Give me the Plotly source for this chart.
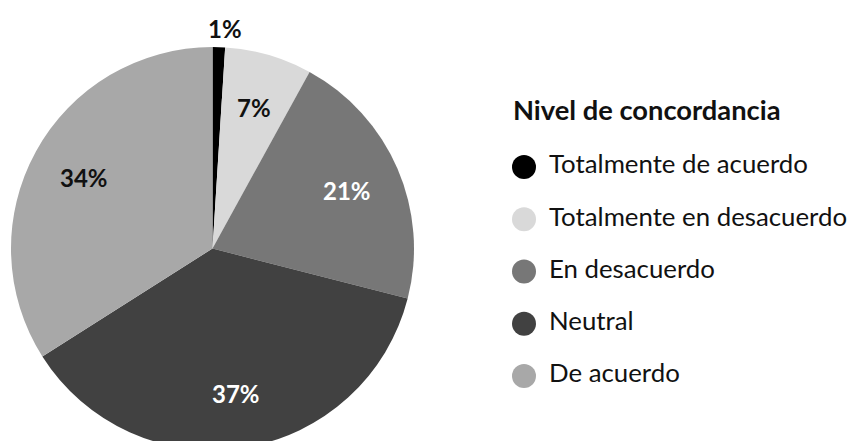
import math
import plotly.graph_objects as go

categories = ["Totalmente de acuerdo", "Totalmente en desacuerdo", "En desacuerdo", "Neutral", "De acuerdo"]
values = [1, 7, 21, 37, 34]
colors = ["#000000", "#d9d9d9", "#777777", "#414141", "#a8a8a8"]
text_colors = ["#111111", "#111111", "#ffffff", "#ffffff", "#111111"]
legend_title = "Nivel de concordancia"

FONT = "Lato, 'Noto Sans', sans-serif"
W, H = 861, 445

# pie geometry in figure pixels
CX, CY, R = 204.5, 240.5, 201.5
# label distance from centre as a fraction of the radius (small slice goes outside)
LABEL_RADIUS = {"inside": 0.73, "outside": 1.09}
OUTSIDE_LIMIT = 3  # percent

fig = go.Figure()

fig.add_trace(go.Pie(
    labels=categories,
    values=values,
    sort=False,
    direction="clockwise",
    rotation=0,
    marker=dict(colors=colors, line=dict(width=0)),
    textinfo="none",
    domain=dict(x=[(CX - R) / W, (CX + R) / W], y=[(H - (CY + R)) / H, (H - (CY - R)) / H]),
    showlegend=False,
    hoverinfo="skip",
))

# percentage labels at each slice's mid-angle
total = sum(values)
cum = 0
for v, tc in zip(values, text_colors):
    mid = (cum + v / 2) / total * 2 * math.pi
    cum += v
    pct = round(v / total * 100)
    outside = pct < OUTSIDE_LIMIT
    rf = LABEL_RADIUS["outside" if outside else "inside"]
    px = CX + rf * R * math.sin(mid)
    py = CY - rf * R * math.cos(mid)
    fig.add_annotation(
        x=px / W, y=1 - py / H, xref="paper", yref="paper",
        xanchor="center", yanchor="middle",
        xshift=6 if outside else 0,
        text="<b>%d%%</b>" % pct,
        showarrow=False,
        font=dict(family=FONT, size=24, color=tc),
    )

# custom legend: markers + text from the category list
rows = list(range(len(categories)))
fig.add_trace(go.Scatter(
    x=[516] * len(categories), y=rows,
    mode="markers",
    marker=dict(size=24, color=colors, line=dict(width=0)),
    showlegend=False, hoverinfo="skip", cliponaxis=False,
))
fig.add_trace(go.Scatter(
    x=[541] * len(categories), y=rows,
    mode="text",
    text=categories,
    textposition="middle right",
    textfont=dict(family=FONT, size=25.8, color="#111111"),
    showlegend=False, hoverinfo="skip", cliponaxis=False,
))

fig.add_annotation(
    x=503 / W, y=1 - 102 / H, xref="paper", yref="paper",
    xanchor="left", yanchor="middle",
    text="<b>" + legend_title + "</b>",
    showarrow=False,
    font=dict(family=FONT, size=27.3, color="#111111"),
)

step = 52.25
first = 159
fig.update_layout(
    width=W, height=H,
    margin=dict(l=0, r=0, t=0, b=0),
    paper_bgcolor="white",
    plot_bgcolor="rgba(0,0,0,0)",
    font=dict(family=FONT),
    xaxis=dict(visible=False, range=[0, W], domain=[0, 1], fixedrange=True),
    yaxis=dict(visible=False, range=[(H - first) / step, -first / step], domain=[0, 1], fixedrange=True),
)

fig.write_html("out.html")
